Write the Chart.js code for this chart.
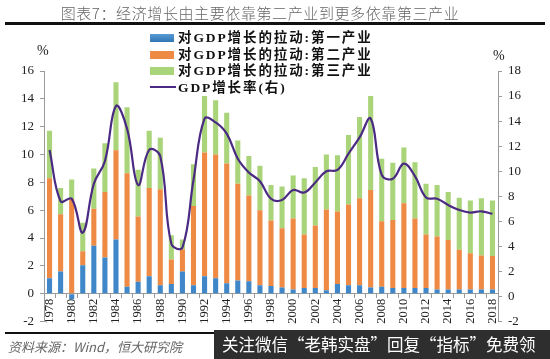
<!DOCTYPE html>
<html>
<head>
<meta charset="utf-8">
<script src="https://cdn.jsdelivr.net/npm/chart.js@4.4.1/dist/chart.umd.min.js"></script>
<style>
  body { margin: 0; background: #fff; }
  #wrap { position: relative; width: 550px; height: 359px; overflow: hidden; background: #fff; }
  #chart { position: absolute; left: 0; top: 0; }
  .title { position: absolute; left: 0; top: 2px; width: 520px; text-align: center; font-family: "Noto Sans CJK SC", sans-serif; font-size: 15px; font-weight: 300; color: #666; letter-spacing: 0.6px; }
  .rule { position: absolute; left: 5px; width: 540px; background: #111; }
  .legend { position: absolute; left: 150px; top: 30px; font-family: "Liberation Serif", "Noto Sans CJK SC", serif; font-weight: bold; font-size: 13.5px; color: #111; letter-spacing: 1.9px; }
  .legend div { height: 16.7px; line-height: 16.7px; white-space: nowrap; }
  .legend span.box { display: inline-block; width: 24px; height: 8px; margin-right: 4px; vertical-align: 0px; }
  .legend span.ln { display: inline-block; width: 26px; height: 2px; margin-right: 2px; vertical-align: 4px; background: #4b2a84; }
  .pct { position: absolute; font-family: "Liberation Serif", serif; font-size: 14px; color: #222; }
  .src { position: absolute; left: 8px; top: 337px; font-family: "Noto Sans CJK SC", sans-serif; font-style: italic; font-size: 13px; color: #666; }
  .wm { position: absolute; left: 214px; top: 330px; width: 336px; height: 29px; background: #2e2e2e; color: #fff; font-family: "Noto Sans CJK SC", sans-serif; font-size: 16.5px; line-height: 29px; padding-left: 8px; white-space: nowrap; }
</style>
</head>
<body>
<div id="wrap">
  <canvas id="chart" width="550" height="359"></canvas>
  <div class="title">图表7：经济增长由主要依靠第二产业到更多依靠第三产业</div>
  <div class="rule" style="top:22px;height:2.5px;"></div>
  <div class="legend">
    <div><span class="box" style="background:linear-gradient(#5b9bd5,#2f75b5);"></span>对GDP增长的拉动:第一产业</div>
    <div><span class="box" style="background:#ee8a43;"></span>对GDP增长的拉动:第二产业</div>
    <div><span class="box" style="background:#a9d47a;"></span>对GDP增长的拉动:第三产业</div>
    <div><span class="ln"></span>GDP增长率(右)</div>
  </div>
  <div class="pct" style="left:37px;top:43px;">%</div>
  <div class="pct" style="left:493px;top:48px;">%</div>
  <div class="rule" style="top:332px;height:1.5px;width:210px;"></div>
  <div class="src">资料来源：Wind，恒大研究院</div>
  <div class="wm">关注微信“老韩实盘”回复“指标”免费领</div>
</div>
<script>
// categories
const years = ["1978","1979","1980","1981","1982","1983","1984","1985","1986","1987",
  "1988","1989","1990","1991","1992","1993","1994","1995","1996","1997",
  "1998","1999","2000","2001","2002","2003","2004","2005","2006","2007",
  "2008","2009","2010","2011","2012","2013","2014","2015","2016","2017","2018"];

// contribution to GDP growth, percentage points (left axis)
const primary = [1.1, 1.6, -0.4, 2.05, 3.45, 2.6, 3.9, 0.5, 0.85, 1.25,
  0.6, 0.7, 1.6, 0.6, 1.25, 1.1, 0.75, 0.95, 0.9, 0.6,
  0.55, 0.45, 0.3, 0.4, 0.4, 0.25, 0.7, 0.6, 0.6, 0.45,
  0.5, 0.4, 0.4, 0.4, 0.4, 0.3, 0.3, 0.3, 0.3, 0.3, 0.3];
const secondary = [7.2, 4.1, 6.8, 1.0, 2.65, 4.7, 6.4, 8.15, 4.7, 6.35,
  6.9, 1.75, 1.6, 5.7, 8.9, 8.9, 8.6, 6.95, 6.15, 5.4,
  4.7, 4.25, 5.1, 3.85, 4.5, 5.8, 5.2, 5.8, 6.25, 7.0,
  4.7, 4.9, 6.1, 5.0, 3.85, 3.8, 3.55, 2.85, 2.6, 2.45, 2.4];
const tertiary = [3.4, 1.9, 1.4, 2.05, 2.9, 3.5, 4.9, 4.75, 3.35, 4.1,
  3.7, 1.75, 0.7, 3.0, 4.05, 3.9, 3.65, 3.1, 2.85, 3.2,
  2.55, 3.0, 3.1, 4.05, 4.2, 3.95, 4.05, 5.0, 5.85, 6.75,
  4.5, 4.1, 4.0, 4.05, 3.65, 3.7, 3.45, 3.75, 3.8, 4.1, 4.0];

// GDP growth rate, % (right axis)
const gdpGrowth = [11.7, 7.6, 7.8, 5.1, 9.0, 10.8, 15.2, 13.4, 8.9, 11.7,
  11.2, 4.2, 3.9, 9.3, 14.2, 13.9, 13.0, 11.0, 9.9, 9.2,
  7.8, 7.7, 8.5, 8.3, 9.1, 10.0, 10.1, 11.4, 12.7, 14.2,
  9.7, 9.4, 10.6, 9.6, 7.9, 7.8, 7.3, 6.9, 6.7, 6.8, 6.6];

// tick ranges
const leftTicks = { min: -2, max: 16, step: 2 };
const rightTicks = { min: -2, max: 18, step: 2 };

const axisColor = "#9a9a9a";
const tickFont = { family: "Liberation Serif", size: 13 };

const ctx = document.getElementById("chart").getContext("2d");

new Chart(ctx, {
  data: {
    labels: years,
    datasets: [
      {
        type: "line",
        label: "GDP增长率(右)",
        data: gdpGrowth,
        yAxisID: "y1",
        borderColor: "#4b2a84",
        borderWidth: 2.2,
        pointRadius: 0,
        tension: 0.4,
        fill: false,
        order: 0
      },
      {
        type: "bar",
        label: "对GDP增长的拉动:第一产业",
        data: primary,
        backgroundColor: "#3f87c8",
        yAxisID: "y",
        order: 1
      },
      {
        type: "bar",
        label: "对GDP增长的拉动:第二产业",
        data: secondary,
        backgroundColor: "#ee8a43",
        yAxisID: "y",
        order: 1
      },
      {
        type: "bar",
        label: "对GDP增长的拉动:第三产业",
        data: tertiary,
        backgroundColor: "#a9d47a",
        yAxisID: "y",
        order: 1
      }
    ]
  },
  options: {
    responsive: false,
    animation: false,
    devicePixelRatio: 1,
    layout: { padding: { left: 0, right: 0, top: 71, bottom: 37.5 } },
    datasets: {
      bar: { barPercentage: 0.46, categoryPercentage: 1.0 }
    },
    plugins: {
      legend: { display: false },
      tooltip: { enabled: false }
    },
    scales: {
      x: {
        stacked: true,
        position: { y: 0 },
        border: { color: axisColor, width: 1 },
        grid: { display: true, drawOnChartArea: false, offset: true, tickLength: 4, color: axisColor },
        ticks: {
          autoSkip: false,
          maxRotation: 90,
          minRotation: 90,
          padding: 1,
          color: "#222",
          font: { family: "Liberation Serif", size: 12.5 },
          callback: (v, i) => (i % 2 === 0 ? years[i] : "")
        }
      },
      y: {
        stacked: true,
        position: "left",
        min: leftTicks.min,
        max: leftTicks.max,
        afterFit: (s) => { s.width = 44; },
        border: { color: axisColor, width: 1 },
        grid: { drawOnChartArea: false, tickLength: 4, color: axisColor },
        ticks: { stepSize: leftTicks.step, padding: 6, color: "#222", font: tickFont }
      },
      y1: {
        position: "right",
        min: rightTicks.min,
        max: rightTicks.max,
        afterFit: (s) => { s.width = 52; },
        border: { color: axisColor, width: 1 },
        grid: { drawOnChartArea: false, tickLength: 4, color: axisColor },
        ticks: { stepSize: rightTicks.step, padding: 6, color: "#222", font: tickFont }
      }
    }
  }
});
</script>
</body>
</html>
